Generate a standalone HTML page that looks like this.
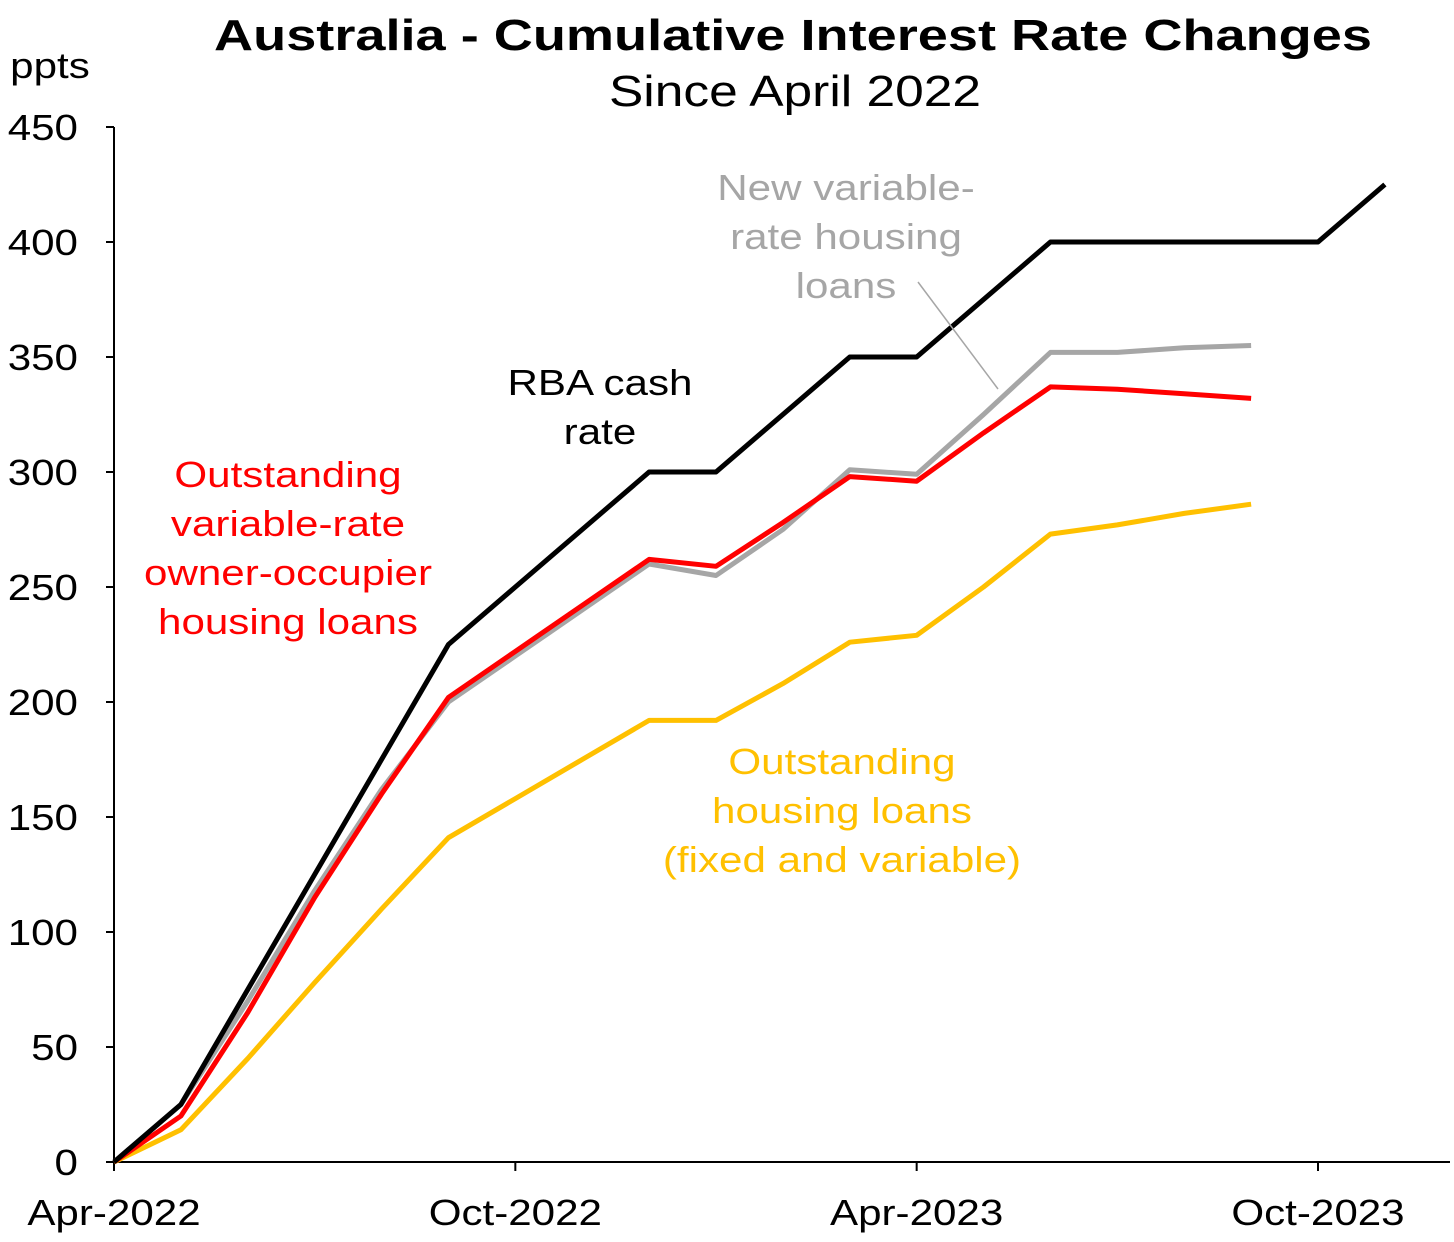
<!DOCTYPE html>
<html><head><meta charset="utf-8"><style>
body{margin:0;background:#fff;}
svg text{font-family:"Liberation Sans",Arial,sans-serif;}
</style></head><body>
<svg id="svg" width="1454" height="1237" xmlns="http://www.w3.org/2000/svg">
<text x="793" y="50" text-anchor="middle" font-size="44" font-weight="bold" data-k="1.23">Australia - Cumulative Interest Rate Changes</text>
<text x="795" y="106" text-anchor="middle" font-size="44">Since April 2022</text>
<text x="50" y="78" text-anchor="middle" font-size="36">ppts</text>
<g id="axes"></g>
<g id="series"></g>
<line x1="918" y1="282" x2="998" y2="389" stroke="#a6a6a6" stroke-width="1.5"/>
<g font-size="36" text-anchor="middle">
<text x="600" y="395"><tspan x="600">RBA cash</tspan><tspan x="600" dy="49">rate</tspan></text>
<text x="846" y="200" fill="#a6a6a6"><tspan x="846">New variable-</tspan><tspan x="846" dy="49">rate housing</tspan><tspan x="846" dy="49">loans</tspan></text>
<text x="288" y="487" fill="#ff0000"><tspan x="288">Outstanding</tspan><tspan x="288" dy="49">variable-rate</tspan><tspan x="288" dy="49">owner-occupier</tspan><tspan x="288" dy="49">housing loans</tspan></text>
<text x="842" y="774" fill="#ffc000"><tspan x="842">Outstanding</tspan><tspan x="842" dy="49">housing loans</tspan><tspan x="842" dy="49">(fixed and variable)</tspan></text>
</g>
</svg>
<script>
const yTicks=[0,50,100,150,200,250,300,350,400,450];
const xTickLabels=["Apr-2022","Oct-2022","Apr-2023","Oct-2023"];
const xTickIdx=[0,6,12,18];
const rba=[0,25,75,125,175,225,250,275,300,300,325,350,350,375,400,400,400,400,400,425];
const newVar=[0,25,70,118,162,200,220,240,260,255,275,301,299,325,352,352,354,355];
const ownerOcc=[0,20,65,115,160,202,222,242,262,259,278,298,296,317,337,336,334,332];
const housing=[0,14,45,78,110,141,158,175,192,192,208,226,229,250,273,277,282,286];
const NS="http://www.w3.org/2000/svg";
const x=i=>114+i*(1318-114)/18;
const y=v=>1162-v*(1162-127)/450;
function mk(t,a,p){const e=document.createElementNS(NS,t);for(const k in a)e.setAttribute(k,a[k]);p.appendChild(e);return e;}
const ax=document.getElementById('axes');
let yl=mk('line',{x1:114,y1:127,x2:114,y2:1162,stroke:'#000','stroke-width':2},ax);


let xl=mk('line',{x1:114,y1:1162,x2:1450,y2:1162,stroke:'#000','stroke-width':2},ax);


yTicks.forEach(v=>{
 const tk=mk('line',{x1:106,y1:y(v),x2:114,y2:y(v),stroke:'#000','stroke-width':2},ax);
 
 
 const t=mk('text',{x:78,y:y(v)+13,'text-anchor':'end','font-size':36},ax);
 t.textContent=v;
 
 
});
xTickIdx.forEach((i,k)=>{
 const tk=mk('line',{x1:x(i),y1:1162,x2:x(i),y2:1171,stroke:'#000','stroke-width':2},ax);
 
 
 const t=mk('text',{x:x(i),y:1225,'text-anchor':'middle','font-size':36},ax);
 t.textContent=xTickLabels[k];
 
 
});
const sg=document.getElementById('series');
[[housing,'#ffc000','line-outstanding-housing'],[newVar,'#a6a6a6','line-new-variable'],[ownerOcc,'#ff0000','line-owner-occupier'],[rba,'#000000','line-rba-cash-rate']].forEach(([d,c,n])=>{
 const p=mk('polyline',{points:d.map((v,i)=>x(i)+','+y(v)).join(' '),fill:'none',stroke:c,'stroke-width':5,'stroke-linejoin':'round'},sg);
 
 
});
// widen text horizontally to match the reference's wider glyphs
document.querySelectorAll('#svg text').forEach(t=>{
 const k=parseFloat(t.getAttribute('data-k')||'1.17');
 const spans=t.querySelectorAll('tspan');
 const items=spans.length?Array.from(spans):[t];
 items.forEach(s=>{
  const w=s.getComputedTextLength();
  s.setAttribute('textLength',w*k);
  s.setAttribute('lengthAdjust','spacingAndGlyphs');
 });
});
</script>
</body></html>
